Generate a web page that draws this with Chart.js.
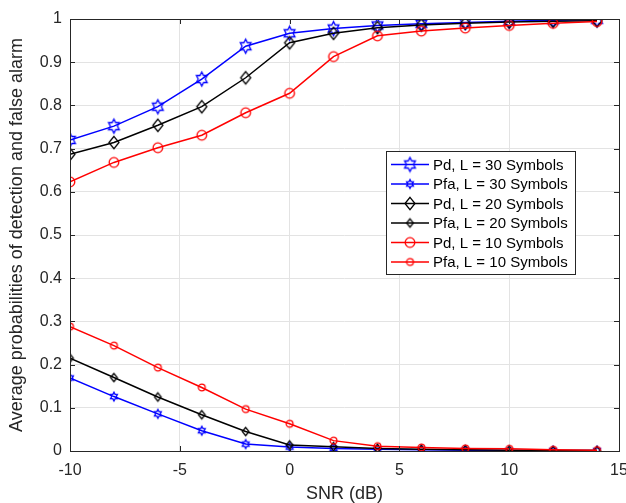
<!DOCTYPE html>
<html>
<head>
<meta charset="utf-8">
<script src="https://cdn.jsdelivr.net/npm/chart.js@4.4.1/dist/chart.umd.min.js"></script>
<style>
  body { margin: 0; background: #fff; }
  #wrap { width: 626px; height: 503px; }
</style>
</head>
<body>
<div id="wrap"><canvas id="myChart"></canvas></div>
<script>
// SNR values (dB) where the curves were sampled
const snr = [-10, -8, -6, -4, -2, 0, 2, 4, 6, 8, 10, 12, 14]

// detection / false alarm probabilities
const pd30 = [0.720, 0.752, 0.797, 0.861, 0.937, 0.967, 0.978, 0.985, 0.989, 0.992, 0.995, 0.997, 0.998]
const pfa30 = [0.169, 0.126, 0.086, 0.047, 0.016, 0.009, 0.006, 0.004, 0.003, 0.002, 0.001, 0.001, 0.001]
const pd20 = [0.687, 0.714, 0.754, 0.797, 0.864, 0.945, 0.967, 0.980, 0.986, 0.990, 0.993, 0.995, 0.996]
const pfa20 = [0.215, 0.170, 0.125, 0.084, 0.045, 0.014, 0.010, 0.006, 0.004, 0.003, 0.002, 0.001, 0.001]
const pd10 = [0.623, 0.668, 0.702, 0.731, 0.783, 0.828, 0.913, 0.961, 0.972, 0.979, 0.985, 0.990, 0.994]
const pfa10 = [0.288, 0.244, 0.193, 0.147, 0.097, 0.063, 0.024, 0.011, 0.008, 0.006, 0.005, 0.003, 0.002]

const seriesLabels = ['Pd, L = 30 Symbols', 'Pfa, L = 30 Symbols', 'Pd, L = 20 Symbols',
  'Pfa, L = 20 Symbols', 'Pd, L = 10 Symbols', 'Pfa, L = 10 Symbols']

const xTicks = [-10, -5, 0, 5, 10, 15]
const yTicks = [0, 0.1, 0.2, 0.3, 0.4, 0.5, 0.6, 0.7, 0.8, 0.9, 1]

const FONT = "'Liberation Sans', Arial, Helvetica, sans-serif"
const AXIS_COLOR = '#262626'

// marker images (matlab style hexagram / diamond / circle, outline only)
function makeMarker(kind, rx, ry, color) {
  var c = document.createElement('canvas')
  var w = Math.ceil(rx * 2 + 4), h = Math.ceil(ry * 2 + 4)
  c.width = w; c.height = h
  var g = c.getContext('2d')
  var cx = w / 2, cy = h / 2
  g.strokeStyle = color
  g.lineWidth = 1.3
  g.beginPath()
  if (kind == 'hex') {
    for (var i = 0; i < 12; i++) {
      var a = -Math.PI / 2 + i * Math.PI / 6
      var r = (i % 2 == 0) ? 1 : 1 / Math.sqrt(3)
      var px = cx + Math.cos(a) * rx * r, py = cy + Math.sin(a) * ry * r
      if (i == 0) g.moveTo(px, py); else g.lineTo(px, py)
    }
    g.closePath()
  } else if (kind == 'dia') {
    g.moveTo(cx, cy - ry); g.lineTo(cx + rx, cy); g.lineTo(cx, cy + ry); g.lineTo(cx - rx, cy)
    g.closePath()
  } else {
    g.arc(cx, cy, rx, 0, Math.PI * 2)
  }
  g.stroke()
  return c
}

const markers = [
  makeMarker('hex', 6.2, 7, '#0000ff'),
  makeMarker('hex', 4, 4.4, '#0000ff'),
  makeMarker('dia', 5, 6.2, '#000000'),
  makeMarker('dia', 3.3, 4.2, '#000000'),
  makeMarker('circ', 4.8, 4.8, '#ff0000'),
  makeMarker('circ', 3.4, 3.4, '#ff0000')
]
const colors = ['#0000ff', '#0000ff', '#000000', '#000000', '#ff0000', '#ff0000']
const allSeries = [pd30, pfa30, pd20, pfa20, pd10, pfa10]
// red on top, then black, then blue
const drawOrder = [3, 3, 2, 2, 1, 1]

function toPoints(ys) {
  return snr.map(function (x, i) { return { x: x, y: ys[i] } })
}

var datasets = allSeries.map(function (ys, i) {
  return {
    label: seriesLabels[i],
    data: toPoints(ys),
    borderColor: colors[i],
    backgroundColor: colors[i],
    borderWidth: 1.5,
    pointStyle: markers[i],
    pointRadius: 5,
    order: drawOrder[i],
    tension: 0
  }
})

// box, inward ticks and the legend inside the axes
const matlabAxes = {
  id: 'matlabAxes',
  afterDatasetsDraw(chart) {
    var ctx = chart.ctx, a = chart.chartArea
    var xs = chart.scales.x, ys = chart.scales.y
    ctx.save()
    ctx.strokeStyle = AXIS_COLOR
    ctx.lineWidth = 1
    xTicks.forEach(function (v) {
      var p = Math.round(xs.getPixelForValue(v)) + 0.5
      ctx.beginPath()
      ctx.moveTo(p, a.bottom); ctx.lineTo(p, a.bottom - 5)
      ctx.moveTo(p, a.top); ctx.lineTo(p, a.top + 5)
      ctx.stroke()
    })
    yTicks.forEach(function (v) {
      var p = Math.round(ys.getPixelForValue(v)) + 0.5
      ctx.beginPath()
      ctx.moveTo(a.left, p); ctx.lineTo(a.left + 5, p)
      ctx.moveTo(a.right, p); ctx.lineTo(a.right - 5, p)
      ctx.stroke()
    })
    ctx.strokeRect(Math.round(a.left) + 0.5, Math.round(a.top) + 0.5,
      Math.round(a.right - a.left), Math.round(a.bottom - a.top))

    // legend
    var bx = a.right - 233, by = a.top + 132, bw = 189, bh = 123
    ctx.fillStyle = '#ffffff'
    ctx.fillRect(bx, by, bw, bh)
    ctx.strokeStyle = AXIS_COLOR
    ctx.strokeRect(bx + 0.5, by + 0.5, bw, bh)
    ctx.font = '15px ' + FONT
    ctx.textBaseline = 'middle'
    ctx.textAlign = 'left'
    seriesLabels.forEach(function (lab, i) {
      var yy = by + 13.5 + i * 19.5
      ctx.strokeStyle = colors[i]
      ctx.lineWidth = 1.5
      ctx.beginPath()
      ctx.moveTo(bx + 5, yy); ctx.lineTo(bx + 43, yy)
      ctx.stroke()
      var m = markers[i]
      ctx.drawImage(m, bx + 24 - m.width / 2, yy - m.height / 2)
      ctx.fillStyle = '#000000'
      ctx.fillText(lab, bx + 47, yy + 1)
    })
    ctx.restore()
  }
}

var ctx = document.getElementById('myChart').getContext('2d')
var chart = new Chart(ctx, {
  type: 'line',
  data: { datasets: datasets },
  options: {
    responsive: true,
    maintainAspectRatio: false,
    animation: false,
    layout: { padding: { top: 19, right: 7, bottom: 0, left: 0 } },
    plugins: { legend: { display: false }, tooltip: { enabled: false } },
    scales: {
      x: {
        type: 'linear',
        min: -10,
        max: 15,
        afterFit: function (s) { s.height = 52; s.paddingLeft = 0; s.paddingRight = 0 },
        afterBuildTicks: function (s) { s.ticks = xTicks.map(function (v) { return { value: v } }) },
        grid: { color: '#e3e3e3', drawTicks: false },
        border: { display: false },
        ticks: { color: AXIS_COLOR, font: { family: FONT, size: 16 }, padding: 10, maxRotation: 0 },
        title: { display: true, text: 'SNR (dB)', color: AXIS_COLOR, font: { family: FONT, size: 18, lineHeight: 1 }, padding: { top: 0, bottom: 0 } }
      },
      y: {
        min: 0,
        max: 1,
        afterFit: function (s) { s.width = 70; s.paddingTop = 0; s.paddingBottom = 0 },
        afterBuildTicks: function (s) { s.ticks = yTicks.map(function (v) { return { value: v } }) },
        grid: { color: '#e3e3e3', drawTicks: false },
        border: { display: false },
        ticks: {
          color: AXIS_COLOR, font: { family: FONT, size: 16 }, padding: 8,
          callback: function (v) { return String(+v.toFixed(1)) }
        },
        title: { display: true, text: 'Average probabilities of detection and false alarm', color: AXIS_COLOR, font: { family: FONT, size: 18, lineHeight: 1 }, padding: { top: 8, bottom: 0 } }
      }
    }
  },
  plugins: [matlabAxes]
})
</script>
</body>
</html>
